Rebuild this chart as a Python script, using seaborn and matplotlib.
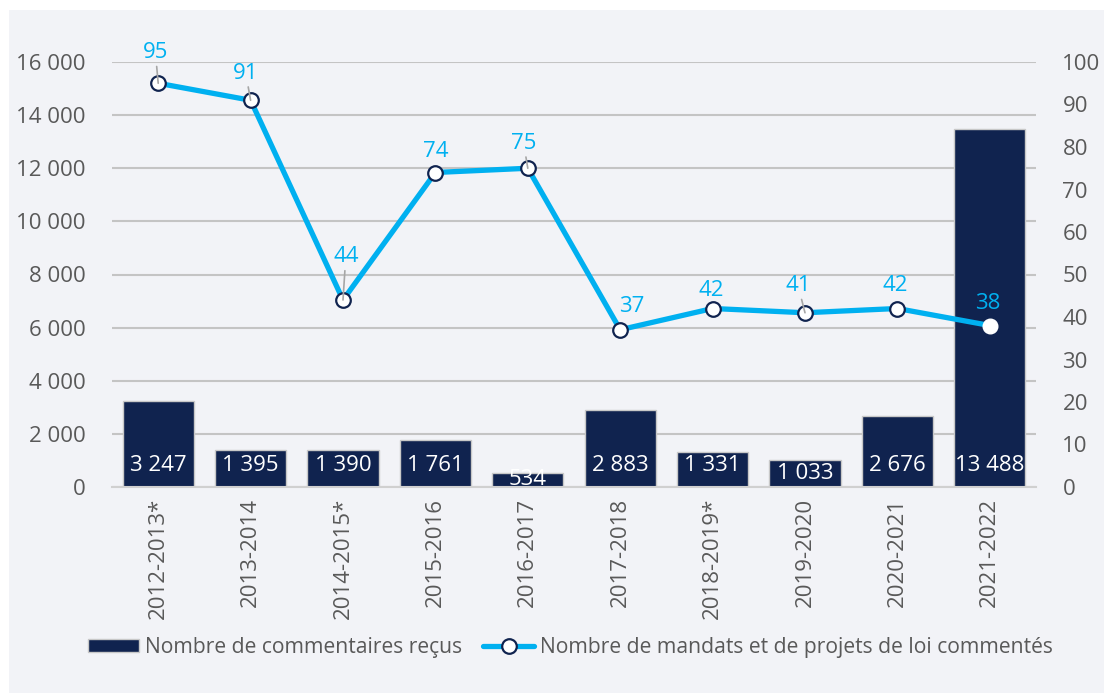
import matplotlib
matplotlib.use("Agg")
import matplotlib.pyplot as plt
from matplotlib.patches import Rectangle, Patch
from matplotlib.lines import Line2D
import seaborn as sns
import numpy as np
import pandas as pd

# Data
years = ["2012-2013*", "2013-2014", "2014-2015*", "2015-2016", "2016-2017",
         "2017-2018", "2018-2019*", "2019-2020", "2020-2021", "2021-2022"]
comments = [3247, 1395, 1390, 1761, 534, 2883, 1331, 1033, 2676, 13488]
mandates = [95, 91, 44, 74, 75, 37, 42, 41, 42, 38]

bar_label = "Nombre de commentaires reçus"
line_label = "Nombre de mandats et de projets de loi commentés"

# Colours
navy = "#10234f"
cyan = "#00b0f0"
bg = "#f2f3f7"
grey_txt = "#595959"
grid_c = "#c4c4c4"

sns.set_style("white")
plt.rcParams["font.family"] = ["Open Sans", "DejaVu Sans"]
plt.rcParams["font.size"] = 16

df = pd.DataFrame({"year": years, "comments": comments, "mandates": mandates})
df["pos"] = np.arange(len(df))

fig = plt.figure(figsize=(11.04, 6.93), dpi=100, facecolor="white")
fig.patches.append(Rectangle((9 / 1104, 0), 1, 683 / 693, transform=fig.transFigure,
                             facecolor=bg, edgecolor="none", zorder=-10))
ax = fig.add_axes([112 / 1104, 206 / 693, 924 / 1104, 425 / 693])
ax.set_facecolor(bg)

# bars
sns.barplot(data=df, x="pos", y="comments", color=navy, saturation=1, width=0.77,
            edgecolor="#c8c8c8", linewidth=1, ax=ax, native_scale=True)
ax.set_xlim(-0.5, len(df) - 0.5)
ax.set_ylim(0, 16000)
ax.set_yticks(np.arange(0, 16001, 2000))
ax.set_yticklabels([f"{v:,}".replace(",", " ") for v in range(0, 16001, 2000)])
ax.set_xticks(df["pos"])
ax.set_xticklabels(years, rotation=90, va="top", ha="center")
ax.set_xticks(np.arange(-0.5, len(df), 1), minor=True)
ax.tick_params(axis="x", which="major", length=0, pad=8, colors=grey_txt, labelsize=16)
ax.tick_params(axis="x", which="minor", length=6, width=1.2, color="#d0d0d0")
ax.tick_params(axis="y", length=0, pad=19, colors=grey_txt, labelsize=16)
ax.grid(axis="y", color=grid_c, linewidth=1.5)
ax.set_axisbelow(True)
for s in ["left", "right", "top"]:
    ax.spines[s].set_visible(False)
ax.spines["bottom"].set_color("#d0d0d0")
ax.spines["bottom"].set_linewidth(1.5)
ax.set_xlabel("")
ax.set_ylabel("")

# bar value labels (inside base)
for i, v in enumerate(comments):
    txt = f"{v:,}".replace(",", " ")
    if v < 1200:
        ax.annotate(txt, (i, v / 2), ha="center", va="center", color="white", fontsize=16)
    else:
        ax.annotate(txt, (i, 0), xytext=(0, 15.5), textcoords="offset points",
                    ha="center", va="center", color="white", fontsize=16)

# line on secondary axis
ax2 = ax.twinx()
sns.lineplot(data=df, x="pos", y="mandates", color=cyan, linewidth=3.8, marker="o",
             markersize=10.5, markerfacecolor="white", markeredgecolor=navy,
             markeredgewidth=1.6, markevery=list(range(len(df) - 1)), ax=ax2)
ax2.plot(df["pos"].iloc[-1], mandates[-1], "o", color="white", markersize=10.5, zorder=5)
ax2.set_ylim(0, 100)
ax2.set_yticks(np.arange(0, 101, 10))
ax2.tick_params(axis="y", length=0, pad=19, colors=grey_txt, labelsize=16)
for s in ["left", "right", "top", "bottom"]:
    ax2.spines[s].set_visible(False)
ax2.set_ylabel("")
ax2.set_xlim(-0.5, len(df) - 0.5)

# line labels (offsets in points), leader lines on some
label_offsets = [(-2, 22), (-3.5, 19.5), (2, 31), (0, 15), (-3, 18),
                 (8, 17), (-1, 13), (-5, 19.5), (-1.5, 16.5), (-1.5, 16)]
leaders = [True, True, True, False, True, False, False, True, False, False]
for i, v in enumerate(mandates):
    arrow = dict(arrowstyle="-", color="#a6a6a6", lw=1.2, shrinkA=0, shrinkB=0) if leaders[i] else None
    ax2.annotate(str(v), (i, v), xytext=label_offsets[i], textcoords="offset points",
                 ha="center", va="center", color=cyan, fontsize=16, arrowprops=arrow,
                 zorder=6)

# legend
handles = [Patch(facecolor=navy, edgecolor="#c8c8c8", linewidth=1),
           Line2D([0], [0], color=cyan, linewidth=3.8, marker="o", markersize=10.5,
                  markerfacecolor="white", markeredgecolor=navy, markeredgewidth=1.6)]
leg = fig.legend(handles, [bar_label, line_label], loc="center", bbox_to_anchor=(0.517, 0.066),
                 ncol=2, frameon=False, fontsize=15.2, handlelength=2.4, handleheight=0.55,
                 handletextpad=0.3, columnspacing=1.0, labelcolor=grey_txt)

fig.savefig("out.png", dpi=100, facecolor="white")
